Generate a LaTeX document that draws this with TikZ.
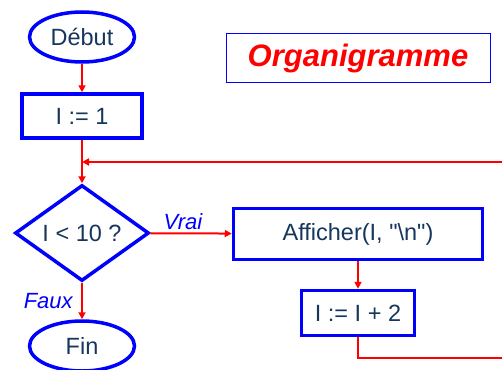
\documentclass[tikz,border=0pt]{standalone}
\usepackage{fontspec}
\setmainfont{Liberation Sans}
\newfontfamily\rawsans{Liberation Sans}
\usetikzlibrary{shapes.geometric}
\usetikzlibrary{arrows.meta}
\definecolor{navy}{RGB}{23,54,93}
\definecolor{pureblue}{RGB}{0,0,255}
\definecolor{purered}{RGB}{255,0,0}

\tikzset{
    terminal/.style={ellipse, draw=pureblue, line width=3.5pt, inner sep=0pt,
        minimum width=105pt, minimum height=50pt, text=navy,
        font=\fontsize{23.5}{27}\selectfont},
    process/.style={rectangle, draw=pureblue, line width=3.5pt, inner sep=0pt,
        text=navy, font=\fontsize{23.5}{27}\selectfont},
    decision/.style={diamond, draw=pureblue, line width=3.5pt, inner sep=0pt,
        aspect=1.38, minimum width=134pt, minimum height=96pt, text=navy,
        font=\fontsize{23.5}{27}\selectfont},
    flow/.style={draw=purered, line width=2pt, -{Triangle[length=7pt,width=7pt]}},
    branch/.style={text=pureblue, font=\fontsize{22}{26}\selectfont\itshape}
}

\begin{document}
\begin{tikzpicture}[x=1pt, y=-1pt]
    \clip (0,0) rectangle (502,369);
    \useasboundingbox (0,0) rectangle (502,369);

    % title
    \node[draw=pureblue, line width=1pt, minimum width=264pt, minimum height=48pt,
          text=purered, font=\fontsize{31}{36}\selectfont\bfseries\itshape]
          (title) at (358, 58) {Organigramme};

    % nodes
    \node[terminal] (start) at (82, 37) {Début};
    \node[process, minimum width=120pt, minimum height=44pt] (init) at (82, 116) {I := 1};
    \node[decision] (test) at (82, 233) {I < 10 ?};
    \node[process, minimum width=249pt, minimum height=51pt] (show) at (358, 234)
        {\rawsans Afficher(I, "\textbackslash n")};
    \node[process, minimum width=113pt, minimum height=45pt] (incr) at (358, 313) {I := I + 2};
    \node[terminal] (stop) at (82, 346) {Fin};

    \coordinate (join) at (82, 162);
    \coordinate (back) at (530, 162);

    % connectors
    \draw[flow] (start) -- (init);
    \draw[flow] (init) -- (test);
    \draw[flow] (test) -- node[branch, above=-1pt, pos=0.4] {Vrai} (show);
    \draw[flow] (test) -- node[branch, left=5pt] {Faux} (stop);
    \draw[flow] (show) -- (incr);
    \draw[flow] (incr.south) -- ++(0, 21) -| (back) -- (join);
\end{tikzpicture}
\end{document}
